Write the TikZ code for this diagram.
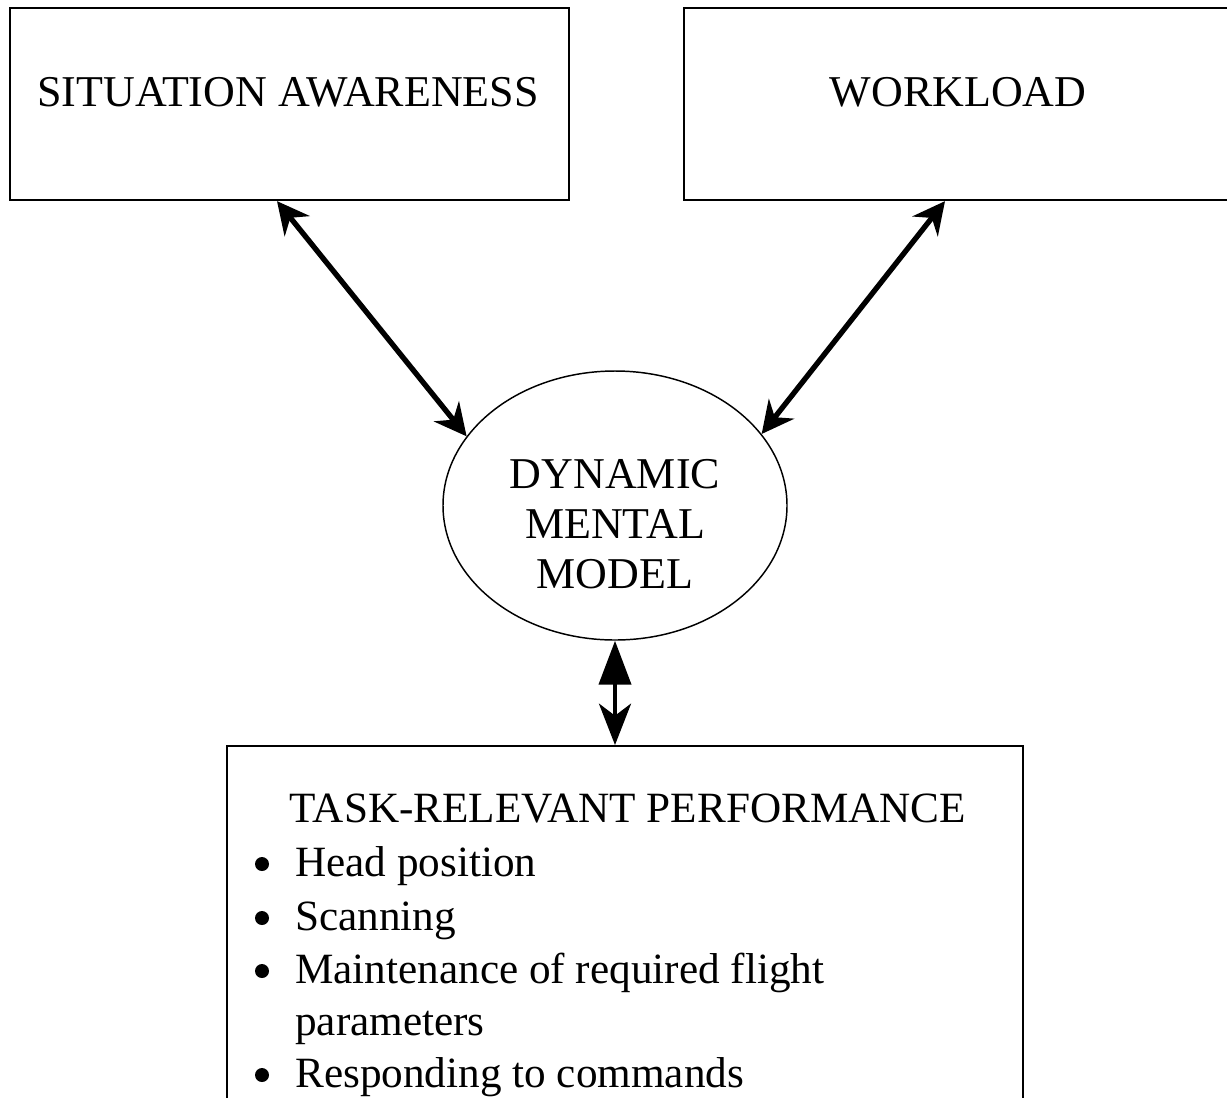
\documentclass[tikz,border=0pt]{standalone}
\usepackage{fontspec}
\setmainfont{Liberation Serif}
\usetikzlibrary{arrows.meta,shapes.geometric,calc}
\begin{document}
\begin{tikzpicture}[x=0.75pt,y=-0.75pt,
  box/.style={draw,line width=1.6pt,inner sep=0pt,anchor=north west},
  lbl/.style={anchor=base,inner sep=0pt,font=\fontsize{33}{39}\selectfont},
  sublbl/.style={lbl,font=\fontsize{32.4}{39}\selectfont},
  item/.style={sublbl,anchor=base west},
  dot/.style={circle,fill,inner sep=0pt,minimum size=10.5pt},
  tipS/.tip={Stealth[length=24pt,width=24pt,inset=8pt]},
  link/.style={line width=4pt,tipS-tipS},
  vlink/.style={line width=3.2pt,{Triangle[length=33pt,width=24pt]}-{Stealth[length=31pt,width=24pt,inset=9pt]}}]
\useasboundingbox (0,0) rectangle (1227,1097);
\fill[white] (0,0) rectangle (1227,1097);

% boxes
\node[box,minimum width=419.25pt,minimum height=144pt] (sa) at (9,7) {};
\node[box,minimum width=420pt,minimum height=144pt] (wl) at (683,7) {};
\node[box,minimum width=597pt,minimum height=300pt] (trp) at (226,745) {};
\node[draw,ellipse,line width=1.1pt,inner sep=0pt,
      minimum width=258pt,minimum height=201.75pt] (dmm) at (615,505.5) {};

% labels
\node[lbl] (saT) at (288,106) {SITUATION AWARENESS};
\node[lbl] (wlT) at (958,106) {WORKLOAD};
\node[lbl] (d1) at (615,488) {DYNAMIC};
\node[lbl] (d2) at (615,538) {MENTAL};
\node[lbl] (d3) at (615,588) {MODEL};
\node[sublbl] (trpT) at (628,822) {TASK-RELEVANT PERFORMANCE};

\node[dot] (b1) at (262,864) {};
\node[item] (i1) at (295,876) {Head position};
\node[dot] (b2) at (262,918) {};
\node[item] (i2) at (295,930) {Scanning};
\node[dot] (b3) at (262,971) {};
\node[item] (i3) at (295,983) {Maintenance of required flight};
\node[item] (i3b) at (295,1035) {parameters};
\node[dot] (b4) at (262,1075) {};
\node[item] (i4) at (295,1087) {Responding to commands};

% connectors
\draw[link] ($(sa.south west)+(268,0)$) -- (dmm.155);
\draw[link] ($(wl.south west)+(262,0)$) -- (dmm.26);
\draw[vlink] (dmm.south) -- (dmm.south |- trp.north);
\end{tikzpicture}
\end{document}
